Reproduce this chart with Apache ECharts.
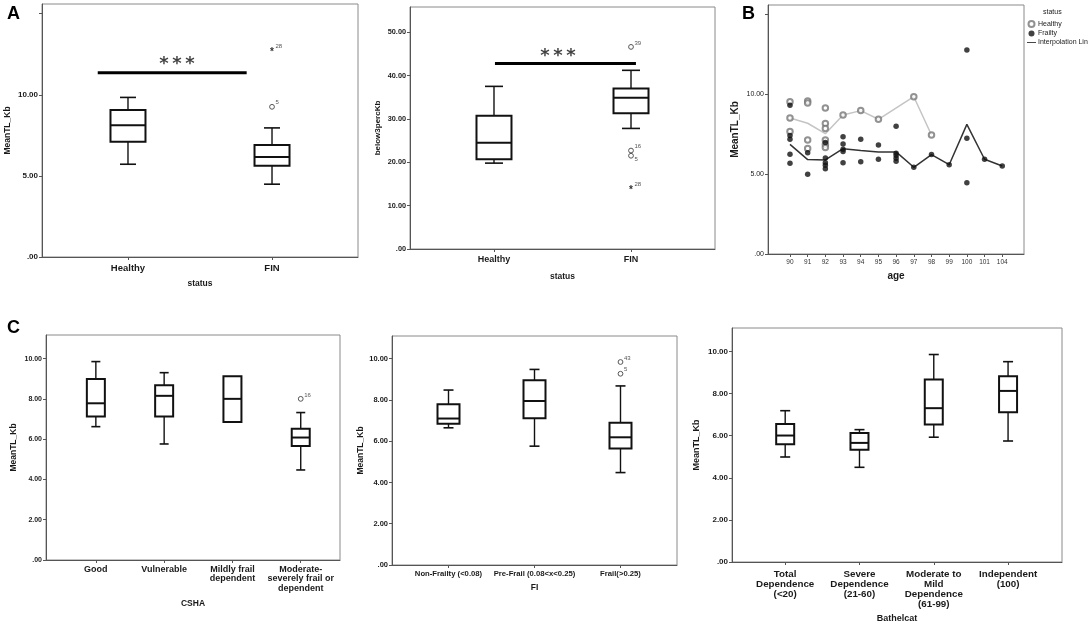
<!DOCTYPE html>
<html><head><meta charset="utf-8">
<script src="https://cdn.jsdelivr.net/npm/echarts@6/dist/echarts.min.js"></script>
<style>html,body{margin:0;padding:0;background:#fff}#c{width:1091px;height:626px}</style>
</head><body><div id="c"></div>
<script>
// ================= DATA =================
// Panel A (left): MeanTL_Kb by status. Box stats: [min, Q1, median, Q3, max]
const a1Cats = ['Healthy', 'FIN'];
const a1Boxes = [[5.72, 7.10, 8.13, 9.06, 9.84], [4.49, 5.62, 6.17, 6.90, 7.96]];
const a1Outliers = [[1, 9.26, '5', 'o'], [1, 12.76, '28', '*']];
const a1YTicks = [0, 5, 10];
const a1Sig = [-0.21, 0.824, 11.36];           // [from, to, level] in data units
const a1Stars = [0.34, 11.9];

// Panel A (right): below3percKb by status
const a2Cats = ['Healthy', 'FIN'];
const a2Boxes = [[19.8, 20.7, 24.5, 30.7, 37.5], [27.8, 31.3, 34.9, 37.0, 41.2]];
const a2Outliers = [[1, 46.6, '39', 'o'], [1, 22.7, '16', 'o'], [1, 21.5, '5', 'o'], [1, 14.0, '28', '*']];
const a2YTicks = [0, 10, 20, 30, 40, 50];
const a2Sig = [0.007, 1.036, 42.8];
const a2Stars = [0.467, 44.5];

// Panel B: MeanTL_Kb by age and status
const bAges = ['90', '91', '92', '93', '94', '95', '96', '97', '98', '99', '100', '101', '104'];
const bHealthyPts = [[9.52, 8.50, 7.65], [9.56, 9.44, 7.12, 6.60], [9.12, 8.15, 7.85, 7.12, 6.85, 6.65], [8.68], [8.96], [8.42], [], [9.83], [7.44], [], [], [], []];
const bFrailtyPts = [[9.29, 7.40, 7.17, 6.23, 5.67], [6.33, 4.98], [6.97, 6.00, 5.70, 5.55, 5.33], [7.33, 6.88, 6.54, 6.40, 5.71], [7.17, 5.77], [6.81, 5.92], [7.98, 6.30, 6.15, 5.98, 5.79], [5.42], [6.21], [5.58], [12.75, 7.23, 4.46], [5.92], [5.50]];
const bHealthyLine = [8.50, 8.17, 7.52, 8.68, 8.96, 8.42, null, 9.83, 7.44, null, null, null, null];
const bFrailtyLine = [6.85, 5.90, 5.88, 6.58, 6.47, 6.38, 6.38, 5.42, 6.21, 5.58, 8.10, 5.92, 5.50];
const bYTicks = [0, 5, 10];

// Panel C (left): CSHA
const c1Cats = ['Good', 'Vulnerable', 'Mildly frail\ndependent', 'Moderate-\nseverely frail or\ndependent'];
const c1Boxes = [[6.62, 7.12, 7.78, 8.99, 9.85], [5.76, 7.12, 8.15, 8.68, 9.30], [6.85, 6.85, 8.00, 9.12, 9.12], [4.47, 5.66, 6.08, 6.52, 7.32]];
const c1Outliers = [[3, 8.00, '16', 'o']];
// Panel C (middle): FI
const c2Cats = ['Non-Frailty (<0.08)', 'Pre-Frail (0.08<x<0.25)', 'Frail(>0.25)'];
const c2Boxes = [[6.65, 6.85, 7.10, 7.79, 8.48], [5.76, 7.11, 7.95, 8.95, 9.48], [4.48, 5.65, 6.19, 6.90, 8.68]];
const c2Outliers = [[2, 9.84, '43', 'o'], [2, 9.27, '5', 'o']];
// Panel C (right): Bathelcat
const c3Cats = ['Total\nDependence\n(<20)', 'Severe\nDependence\n(21-60)', 'Moderate to\nMild\nDependence\n(61-99)', 'Independent\n(100)'];
const c3Boxes = [[4.99, 5.59, 6.01, 6.56, 7.19], [4.50, 5.34, 5.66, 6.13, 6.29], [5.93, 6.53, 7.31, 8.67, 9.86], [5.75, 7.12, 8.13, 8.83, 9.52]];
const cYTicks = [0, 2, 4, 6, 8, 10];

// ================= HELPERS =================
const FF = '"Liberation Sans", Arial, sans-serif';
const INK = '#111';
function fmtY(v) { return v === 0 ? '.00' : v.toFixed(2); }

function boxRenderer(boxW, capW) {
  return function (params, api) {
    const x = api.value(0);
    const lo = api.coord([x, api.value(1)]);
    const q1 = api.coord([x, api.value(2)]);
    const md = api.coord([x, api.value(3)]);
    const q3 = api.coord([x, api.value(4)]);
    const hi = api.coord([x, api.value(5)]);
    const cx = lo[0], h = boxW / 2, c = capW / 2;
    const ln = (x1, y1, x2, y2, w) => ({ type: 'line', shape: { x1, y1, x2, y2 }, style: { stroke: INK, lineWidth: w } });
    const ch = [];
    if (hi[1] < q3[1] - 0.5) { ch.push(ln(cx, q3[1], cx, hi[1], 1.4)); ch.push(ln(cx - c, hi[1], cx + c, hi[1], 1.6)); }
    if (lo[1] > q1[1] + 0.5) { ch.push(ln(cx, q1[1], cx, lo[1], 1.4)); ch.push(ln(cx - c, lo[1], cx + c, lo[1], 1.6)); }
    ch.push({ type: 'rect', shape: { x: cx - h, y: q3[1], width: boxW, height: q1[1] - q3[1] }, style: { fill: '#fff', stroke: INK, lineWidth: 2 } });
    ch.push(ln(cx - h, md[1], cx + h, md[1], 2));
    return { type: 'group', children: ch };
  };
}
function outlierRenderer(list, belowLabels) {
  return function (params, api) {
    const d = list[params.dataIndex];
    const p = api.coord([d[0], d[1]]);
    const below = belowLabels.indexOf(d[2]) >= 0;
    const mark = d[3] === '*'
      ? { type: 'text', style: { text: '*', x: p[0], y: p[1] + 2, align: 'center', verticalAlign: 'middle', font: 'bold 10px ' + FF, fill: '#333' } }
      : { type: 'circle', shape: { cx: p[0], cy: p[1], r: 2.4 }, style: { fill: '#fff', stroke: '#555', lineWidth: 1 } };
    const lab = { type: 'text', style: { text: d[2], x: p[0] + 3.5, y: below ? p[1] + 4 : p[1] - 4, align: 'left', verticalAlign: 'middle', font: '6px ' + FF, fill: '#555' } };
    return { type: 'group', children: [mark, lab] };
  };
}
function boxData(boxes) { return boxes.map((b, i) => [i].concat(b)); }

function xAxisCat(gi, cats, min, max, fs, margin, name, nameGap, nameFs, lh) {
  const idx = cats.map((c, i) => i);
  return {
    type: 'value', gridIndex: gi, min, max,
    axisLine: { show: true, onZero: false, lineStyle: { color: '#555', width: 1 } },
    axisTick: { show: true, customValues: idx, length: 3, lineStyle: { color: '#555' } },
    axisLabel: { customValues: idx, formatter: v => cats[Math.round(v)], fontSize: fs, fontWeight: 'bold', fontFamily: FF, color: '#1a1a1a', margin, lineHeight: lh || fs * 1.05 },
    splitLine: { show: false },
    name, nameLocation: 'middle', nameGap, nameTextStyle: { fontSize: nameFs, fontWeight: 'bold', fontFamily: FF, color: '#1a1a1a' }
  };
}
function yAxisVal(gi, max, labelTicks, tickTicks, fs, name, nameGap, nameFs, bold) {
  return {
    type: 'value', gridIndex: gi, min: 0, max,
    axisLine: { show: true, onZero: false, lineStyle: { color: '#555', width: 1 } },
    axisTick: { show: true, customValues: tickTicks, length: 3, lineStyle: { color: '#555' } },
    axisLabel: { customValues: labelTicks, formatter: fmtY, fontSize: fs, fontWeight: bold === false ? 'normal' : 'bold', fontFamily: FF, color: '#1a1a1a', margin: 4 },
    splitLine: { show: false },
    name, nameLocation: 'middle', nameGap, nameRotate: 90, nameTextStyle: { fontSize: nameFs, fontWeight: 'bold', fontFamily: FF, color: '#1a1a1a' }
  };
}
const frame = { show: true, borderColor: '#8a8a8a', borderWidth: 1, backgroundColor: 'transparent' };

// ================= OPTION =================
const series = [];
const starLabel = { show: true, formatter: '*\u2009*\u2009*', position: 'inside', fontSize: 18, fontWeight: 'bold', fontFamily: '"DejaVu Sans", sans-serif', color: '#111' };
// A1
series.push({ type: 'custom', xAxisIndex: 0, yAxisIndex: 0, renderItem: boxRenderer(35, 16), data: boxData(a1Boxes), encode: { x: 0, y: [1, 2, 3, 4, 5] }, z: 3 });
series.push({ type: 'custom', xAxisIndex: 0, yAxisIndex: 0, renderItem: outlierRenderer(a1Outliers, []), data: a1Outliers.map(d => [d[0], d[1]]), z: 4 });
series.push({ type: 'line', xAxisIndex: 0, yAxisIndex: 0, data: [[a1Sig[0], a1Sig[2]], [a1Sig[1], a1Sig[2]]], symbol: 'none', lineStyle: { color: '#000', width: 3 }, z: 4 });
series.push({ type: 'scatter', xAxisIndex: 0, yAxisIndex: 0, data: [a1Stars], symbolSize: 0, label: starLabel });
// A2
series.push({ type: 'custom', xAxisIndex: 1, yAxisIndex: 1, renderItem: boxRenderer(35, 18), data: boxData(a2Boxes), encode: { x: 0, y: [1, 2, 3, 4, 5] }, z: 3 });
series.push({ type: 'custom', xAxisIndex: 1, yAxisIndex: 1, renderItem: outlierRenderer(a2Outliers, ['5']), data: a2Outliers.map(d => [d[0], d[1]]), z: 4 });
series.push({ type: 'line', xAxisIndex: 1, yAxisIndex: 1, data: [[a2Sig[0], a2Sig[2]], [a2Sig[1], a2Sig[2]]], symbol: 'none', lineStyle: { color: '#000', width: 3 }, z: 4 });
series.push({ type: 'scatter', xAxisIndex: 1, yAxisIndex: 1, data: [a2Stars], symbolSize: 0, label: starLabel });
// B
const bFrLine = []; bFrailtyLine.forEach((v, i) => { if (v != null) bFrLine.push([i, v]); });
const bHeLine = []; bHealthyLine.forEach((v, i) => { if (v != null) bHeLine.push([i, v]); });
const bHePts = []; bHealthyPts.forEach((arr, i) => arr.forEach(v => bHePts.push([i, v])));
const bFrPts = []; bFrailtyPts.forEach((arr, i) => arr.forEach(v => bFrPts.push([i, v])));
series.push({ name: 'Interpolation Lin', type: 'line', xAxisIndex: 2, yAxisIndex: 2, data: bFrLine, symbol: 'none', lineStyle: { color: '#333', width: 1.5 }, itemStyle: { color: '#333' }, z: 2 });
series.push({ name: 'Interpolation Lin', type: 'line', xAxisIndex: 2, yAxisIndex: 2, data: bHeLine, symbol: 'none', lineStyle: { color: '#c4c4c4', width: 1.5 }, itemStyle: { color: '#c4c4c4' }, z: 2 });
series.push({ name: 'Healthy', type: 'scatter', xAxisIndex: 2, yAxisIndex: 2, data: bHePts, symbol: 'emptyCircle', symbolSize: 5.5, itemStyle: { color: '#777', borderWidth: 1.1 }, z: 5 });
series.push({ name: 'Frailty', type: 'scatter', xAxisIndex: 2, yAxisIndex: 2, data: bFrPts, symbol: 'circle', symbolSize: 5.5, itemStyle: { color: '#111' }, z: 5 });
// C1
series.push({ type: 'custom', xAxisIndex: 3, yAxisIndex: 3, renderItem: boxRenderer(18, 9), data: boxData(c1Boxes), encode: { x: 0, y: [1, 2, 3, 4, 5] }, z: 3 });
series.push({ type: 'custom', xAxisIndex: 3, yAxisIndex: 3, renderItem: outlierRenderer(c1Outliers, []), data: c1Outliers.map(d => [d[0], d[1]]), z: 4 });
// C2
series.push({ type: 'custom', xAxisIndex: 4, yAxisIndex: 4, renderItem: boxRenderer(22, 10), data: boxData(c2Boxes), encode: { x: 0, y: [1, 2, 3, 4, 5] }, z: 3 });
series.push({ type: 'custom', xAxisIndex: 4, yAxisIndex: 4, renderItem: outlierRenderer(c2Outliers, []), data: c2Outliers.map(d => [d[0], d[1]]), z: 4 });
// C3
series.push({ type: 'custom', xAxisIndex: 5, yAxisIndex: 5, renderItem: boxRenderer(18, 10), data: boxData(c3Boxes), encode: { x: 0, y: [1, 2, 3, 4, 5] }, z: 3 });

const bIdx = bAges.map((a, i) => i);
const option = {
  animation: false,
  grid: [
    Object.assign({ left: 42, top: 4, width: 316, height: 253 }, frame),
    Object.assign({ left: 410, top: 7, width: 305, height: 242 }, frame),
    Object.assign({ left: 768, top: 5, width: 256, height: 249 }, frame),
    Object.assign({ left: 46, top: 335, width: 294, height: 225 }, frame),
    Object.assign({ left: 392, top: 336, width: 285, height: 229 }, frame),
    Object.assign({ left: 732, top: 328, width: 330, height: 234 }, frame)
  ],
  xAxis: [
    xAxisCat(0, a1Cats, -0.597, 1.597, 9.5, 6, 'status', 22, 8.5),
    xAxisCat(1, a2Cats, -0.613, 1.613, 9, 6, 'status', 23, 8.5),
    {
      type: 'value', gridIndex: 2, min: -1.243, max: 13.23,
      axisLine: { show: true, onZero: false, lineStyle: { color: '#555' } },
      axisTick: { show: true, customValues: bIdx, length: 3, lineStyle: { color: '#555' } },
      axisLabel: { customValues: bIdx, formatter: v => bAges[Math.round(v)], fontSize: 6.5, fontFamily: FF, color: '#333', margin: 5 },
      splitLine: { show: false },
      name: 'age', nameLocation: 'middle', nameGap: 17, nameTextStyle: { fontSize: 10, fontWeight: 'bold', fontFamily: FF, color: '#1a1a1a' }
    },
    xAxisCat(3, c1Cats, -0.73, 3.575, 9, 5, 'CSHA', 39, 8.5, 9.3),
    xAxisCat(4, c2Cats, -0.657, 2.657, 7.7, 5, 'FI', 18, 8.5),
    xAxisCat(5, c3Cats, -0.716, 3.726, 9.8, 7, 'Bathelcat', 52, 9, 10)
  ],
  yAxis: [
    yAxisVal(0, 15.6, a1YTicks, [0, 5, 10, 15], 8, 'MeanTL_Kb', 30, 8.5),
    yAxisVal(1, 55.8, a2YTicks, a2YTicks, 7.3, 'below3percKb', 28, 8),
    yAxisVal(2, 15.56, bYTicks, [0, 5, 10, 15], 7, 'MeanTL_Kb', 28, 10, false),
    yAxisVal(3, 11.17, cYTicks, cYTicks, 7, 'MeanTL_Kb', 28, 8.5),
    yAxisVal(4, 11.1, cYTicks, cYTicks, 7.5, 'MeanTL_Kb', 25, 8.5),
    yAxisVal(5, 11.12, cYTicks, cYTicks, 8, 'MeanTL_Kb', 31, 9)
  ],
  legend: {
    data: [{ name: 'Healthy' }, { name: 'Frailty' }, { name: 'Interpolation Lin', icon: 'path://M0,0L20,0L20,2L0,2Z' }],
    orient: 'vertical', left: 1027, top: 20, itemWidth: 9, itemHeight: 6, itemGap: 2, padding: 0,
    selectedMode: false, textStyle: { fontSize: 7, fontFamily: FF, color: '#222', padding: [0, 0, 0, -3] }
  },
  graphic: [
    { type: 'text', left: 7, top: 5, style: { text: 'A', font: 'bold 18px ' + FF, fill: '#000' } },
    { type: 'text', left: 742, top: 5, style: { text: 'B', font: 'bold 18px ' + FF, fill: '#000' } },
    { type: 'text', left: 7, top: 319, style: { text: 'C', font: 'bold 18px ' + FF, fill: '#000' } },
    { type: 'text', left: 1043, top: 9, style: { text: 'status', font: '7px ' + FF, fill: '#222' } }
  ],
  series
};
const chart = echarts.init(document.getElementById('c'), null, { renderer: 'canvas' });
chart.setOption(option);
</script>
</body></html>
